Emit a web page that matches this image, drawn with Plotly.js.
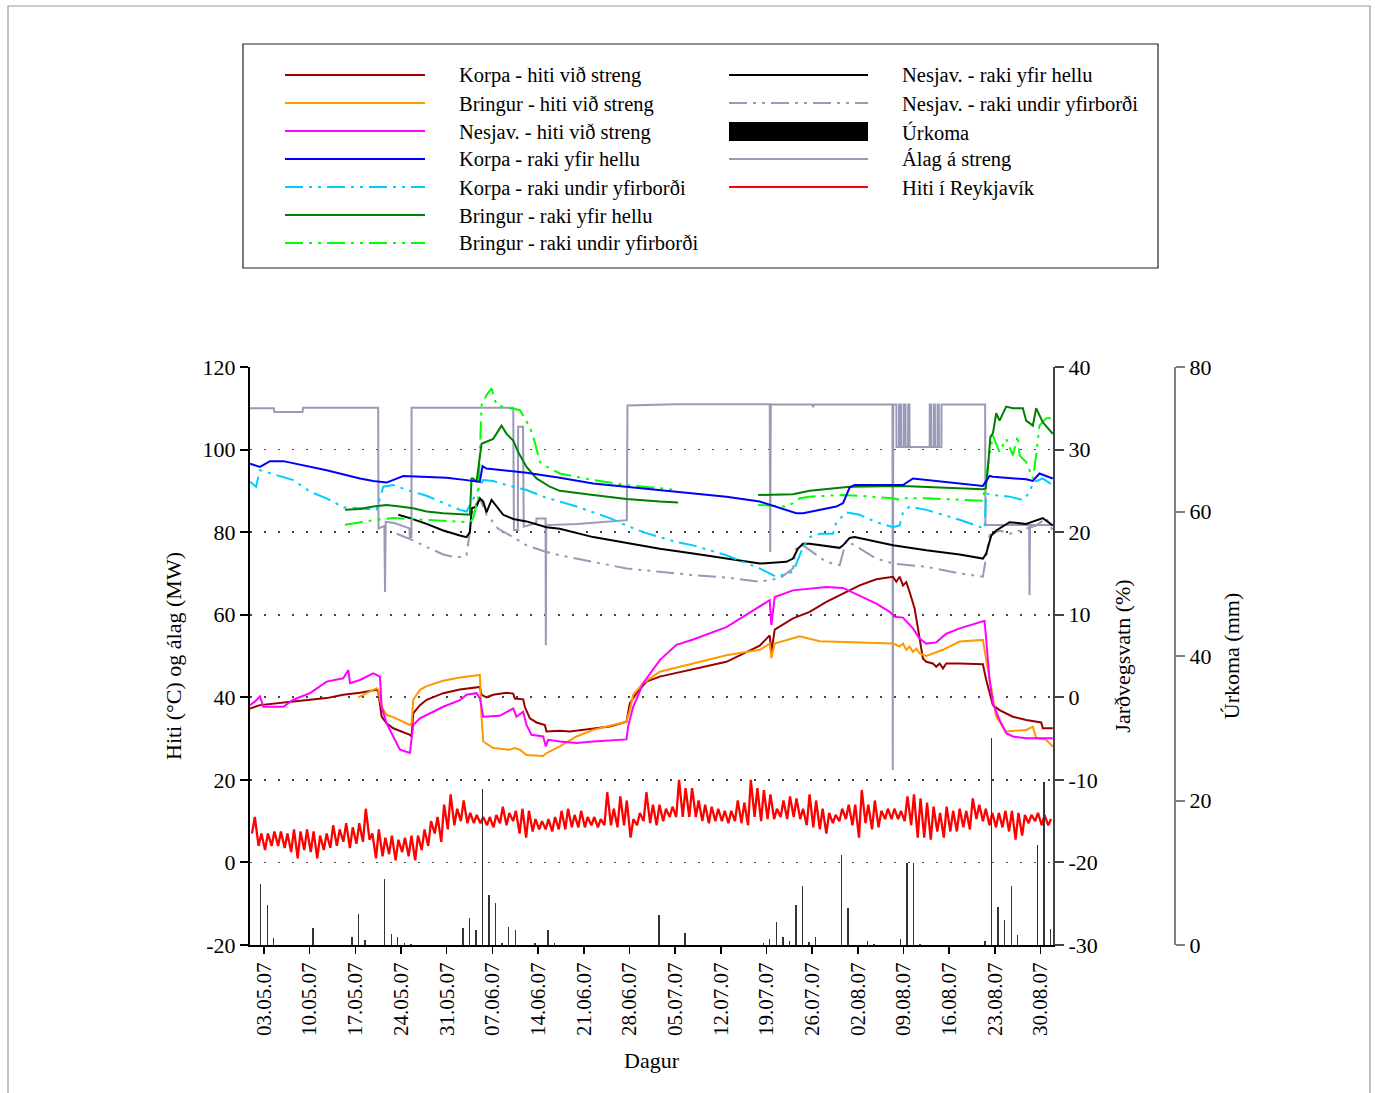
<!DOCTYPE html>
<html>
<head>
<meta charset="utf-8">
<script src="https://cdn.plot.ly/plotly-3.0.1.min.js"></script>
<style>html,body{margin:0;padding:0;background:#fff;}#chart{width:1375px;height:1093px;}</style>
</head>
<body>
<div id="chart"></div>
<script>
// ---------------- DATA (x = days since 2007-05-01 00:00) ----------------
// Temperature in Reykjavík: daily minimum and maximum (°C), day 0 = 1 May 2007
const rvkMin = [7,4,3,4,4,3.5,2.5,1,3,2.5,1,3,3.5,4,5,3.5,4.5,5,5.5,1,1.5,2,0.5,2.5,1.5,0.5,3,4,7,5,
  8,9,10,9.5,9.5,9.5,9,8.5,9.5,9,10,7,6,7.5,8,8,7.5,8,8,8.5,8.5,8.5,9,8.5,9,9,8.5,9,6,9,
  10,9.5,9,10,11,11,11,11,11,10,9.5,10,10,9.5,10,9.5,9,11,10,10.5,10.5,11,10.5,11,10.5,9,8.5,8,7,9.5,
  10,10.5,9,6,9.5,8,8.5,10.5,10.5,10.5,10,9,6,6,5.5,7.5,6,7.5,7.5,8.5,8,10.5,10,9,8.5,8.5,7.5,5.5,6.5,9.5,
  10,9,9];
const rvkMax = [11,7,7,7.5,7.5,7,8,7.5,8,7.5,6.5,7,9,8,9.5,8.5,9.5,13,7,8,6,6.5,5.5,6,6.5,6.5,8,10,11,14,
  16.5,13,15,12,11.5,11,11,11.5,13.5,12,12.5,13,12.5,10.5,10,10.5,11,12.5,13,11.5,12.5,11,11,10.5,17,13,16,15,10.5,12,
  17,14,14,13,13.5,20,18,18,15,14,13.5,13,12.5,12.5,15,14.5,20,18,17.5,16.5,13,15,16,15.5,13,16.5,15,13,12,11.5,
  13,14,14,17.5,14,15,12.5,13,13,12.5,16,16.5,15.5,14.5,13.5,12,13.5,12.5,13,12.5,15.5,14,13,12,12,12.5,12.5,12,11.5,11.5,
  12,11.5,10.5];

// Precipitation (mm per day)
const precipDay = [1,2,3,9,15,16,17,20,21,22,23,24,32,33,34,35,36,37,38,39,40,43,45,46,62,66,
  78,79,80,81,82,83,84,85,86,90,91,94,95,99,100,101,102,112,113,114,115,116,117,120,121,122];
const precipMM = [8.5,5.5,1,2.3,1.1,4.3,0.7,9.1,1.5,1.1,0.3,0.2,2.3,3.7,2.1,21.6,6.9,5.8,0.3,2.5,2.1,0.3,2.1,0.3,4.1,1.7,
  0.3,0.9,3.2,1.1,0.5,5.6,8.1,0.4,1.1,12.4,5.1,0.5,0.2,0.8,11.4,11.4,0.2,0.6,28.7,5.3,3.5,8.1,1.4,13.9,22.6,2.2];

// Load on cable (MW): [day, MW]
const alag = [[-0.2,110],[3.5,110],[3.6,109.1],[7.9,109.1],[8.0,110.1],[19.5,110.1],[19.55,80.9],[20.45,81.5],[20.55,65.5],[20.65,82.5],
  [22,82.2],[24.3,80.9],[24.35,78.8],[24.6,78.8],[24.62,110.1],[40.2,110.1],[40.3,80.5],[40.9,80.5],[40.95,105.5],[41.7,105.5],
  [41.8,81.3],[43.7,82.2],[43.76,83.3],[45.15,83.3],[45.19,52.6],[45.25,81.7],[50,82],[57.6,82.9],[57.7,110.7],[65,111],
  [79.5,111],[79.57,75.2],[79.65,111],[86.0,110.9],[86.13,110.3],[86.3,110.9],[98.3,110.9],[98.35,22.4],[98.42,110.9],
  [98.9,110.9],[98.92,100.6],[99.3,100.6],[99.32,110.9],[99.6,110.9],[99.62,100.6],[100.0,100.6],[100.02,110.9],[100.3,110.9],[100.32,100.6],
  [100.7,100.6],[100.72,110.9],[100.9,110.9],[100.92,100.6],[104.0,100.6],[104.02,110.9],[104.2,110.9],[104.22,100.6],[104.6,100.6],[104.62,110.9],
  [104.8,110.9],[104.82,100.6],[105.2,100.6],[105.22,110.9],[105.4,110.9],[105.42,100.6],[105.8,100.6],[105.82,110.9],
  [112.5,110.9],[112.55,81.7],[119.25,81.7],[119.3,64.7],[119.38,81.7],[122.9,81.7]];

// Cable temperatures (°C): [day, °C]
const korpaHiti = [[-0.14,37.3],[1.39,38.1],[6.5,39.0],[11.6,39.8],[14.15,40.6],[16.71,41.1],[19.26,41.8],[19.51,41.4],[20.03,35.3],[20.79,33.7],
  [21.81,32.5],[24.36,30.9],[24.62,30.5],[24.87,36.1],[25.9,38.1],[26.92,39.4],[29.47,41.0],[32.02,41.9],[35.08,42.5],[35.34,40.6],
  [36.1,40.0],[37.12,40.6],[39.17,41.1],[40.19,40.9],[40.44,39.7],[41.72,39.5],[41.97,37.7],[42.74,34.9],[43.76,33.9],[45.04,33.3],
  [45.29,31.7],[47.33,31.9],[48.87,31.7],[52.44,32.5],[54.99,32.9],[57.55,34.1],[58.06,38.5],[59.08,41.0],[60.61,43.8],[62.65,45.0],
  [67.76,46.8],[72.86,48.6],[77.97,52.5],[79.49,55.0],[79.75,51.0],[80.26,56.4],[83.06,59.1],[85.62,60.7],[88.17,63.1],[90.72,65.1],
  [93.27,67.1],[95.83,68.6],[98.38,69.2],[98.89,68.0],[99.4,69.2],[99.91,67.1],[100.42,67.9],[100.93,65.5],[101.7,61.5],[102.21,56.7],
  [102.72,51.0],[102.97,49.4],[103.48,48.6],[104.5,48.2],[105.01,47.4],[105.53,48.2],[106.04,47.0],[106.55,48.2],[108.59,48.2],[112.16,48.0],
  [112.67,44.2],[113.18,41.0],[113.69,38.1],[114.71,36.9],[116.75,35.3],[118.79,34.5],[120.32,34.1],[121.09,33.9],[121.34,32.5],[122.87,32.5]];
const bringurHiti = [[16.45,40.0],[19.26,42.2],[19.51,41.8],[20.03,37.7],[20.79,35.7],[21.81,35.2],[24.36,33.3],[24.62,33.7],[24.87,39.4],[25.9,41.8],
  [26.92,42.7],[29.47,44.0],[32.02,44.8],[35.08,45.4],[35.34,35.3],[35.59,29.3],[37.12,27.7],[39.68,27.3],[40.44,27.7],[41.21,27.3],
  [42.23,26.0],[44.78,25.8],[45.29,26.5],[47.33,28.1],[49.89,30.5],[52.44,32.1],[54.99,33.1],[57.55,34.1],[58.06,36.9],[58.57,40.6],
  [60.1,43.4],[62.65,46.2],[67.76,48.2],[72.86,50.2],[77.97,51.5],[79.49,53.0],[79.75,49.5],[80.26,53.0],[84.09,54.8],[87.15,53.6],
  [98.38,53.0],[99.4,52.3],[99.91,53.0],[100.42,51.5],[100.93,52.3],[101.44,51.0],[101.95,51.8],[102.46,50.6],[103.48,50.0],[104.5,50.6],
  [106.04,51.5],[108.59,53.5],[112.16,53.9],[112.67,49.0],[113.69,39.4],[114.2,35.3],[115.73,31.7],[118.79,32.1],[119.81,32.9],[120.32,30.1],
  [121.85,29.7],[122.36,28.9],[122.87,28.1]];
const nesjavHiti = [[-0.14,38.1],[0.63,39.0],[1.39,40.2],[1.9,37.7],[4.97,37.7],[6.5,39.4],[9.05,41.0],[11.6,43.8],[14.15,44.6],[14.92,46.6],
  [15.18,43.4],[16.71,44.2],[18.75,45.8],[19.77,45.0],[20.03,37.7],[20.79,33.7],[21.81,30.5],[22.83,27.3],[24.36,26.5],[24.62,29.7],
  [24.87,33.3],[25.9,34.9],[26.92,35.7],[29.47,37.7],[32.02,39.3],[33.04,40.6],[34.57,41.0],[35.08,39.8],[35.59,35.3],[38.14,35.5],
  [40.19,37.3],[40.7,35.3],[41.72,36.5],[42.23,33.3],[42.99,30.9],[44.78,30.5],[45.19,28.1],[45.55,29.7],[47.33,29.3],[49.89,28.9],
  [52.44,29.3],[57.55,29.8],[57.8,32.9],[58.57,37.7],[60.1,43.4],[62.65,49.0],[65.2,52.7],[67.76,54.0],[72.86,57.0],[77.97,62.0],
  [79.49,63.5],[79.75,57.5],[80.26,64.3],[83.06,65.9],[88.17,66.7],[90.72,66.5],[93.27,64.7],[95.83,62.7],[97.87,60.7],[98.63,59.5],
  [99.91,59.3],[101.44,56.7],[102.46,54.2],[103.48,53.0],[105.01,53.3],[106.55,55.4],[108.59,56.7],[111.14,57.9],[112.41,58.5],[112.67,53.9],
  [113.18,44.2],[113.69,38.5],[114.71,34.5],[115.73,31.3],[116.75,30.5],[118.79,30.1],[122.87,30.1]];

// Soil moisture (%): [day, %]
const korpaYfir = [[-0.14,28.3],[1.39,27.9],[2.92,28.6],[4.97,28.6],[11.6,27.5],[16.71,26.5],[18.75,26.2],[20.79,26.0],[23.34,26.8],[29.98,26.6],
  [33.04,26.3],[35.08,26.1],[35.49,28.0],[36.1,27.7],[42.23,27.2],[47.33,26.6],[52.44,25.9],[57.55,25.5],[62.65,25.1],[67.76,24.7],
  [72.86,24.3],[77.97,23.7],[83.57,22.3],[84.6,22.3],[89.7,23.1],[90.72,23.5],[91.74,25.4],[92.51,25.7],[99.91,25.7],[101.44,26.5],
  [112.16,25.6],[113.18,26.8],[113.69,26.7],[118.79,26.4],[119.81,26.2],[120.83,27.1],[122.87,26.5]];
const korpaUndir = [[-0.14,26.1],[0.79,25.5],[1.39,27.5],[6.5,26.3],[9.05,24.9],[11.6,24.1],[14.15,23.0],[16.71,22.9],[19.26,22.7],[20.28,25.5],
  [21.81,25.7],[24.36,25.0],[26.92,24.4],[29.98,23.4],[32.02,22.7],[33.04,22.5],[34.57,24.7],[35.59,26.3],[37.12,26.2],[39.17,25.7],
  [42.23,25.1],[44.78,24.3],[47.33,23.7],[49.89,23.1],[52.44,22.4],[54.99,21.7],[57.55,20.8],[60.1,20.0],[62.65,19.4],[65.2,18.8],
  [67.76,18.4],[70.31,17.8],[72.86,17.2],[75.41,16.4],[77.97,15.6],[80.51,14.6],[83.06,15.2],[84.09,17.2],[84.6,18.2],[85.62,19.4],
  [87.15,19.8],[89.19,19.8],[89.7,21.2],[91.23,22.4],[93.27,22.1],[95.83,21.2],[98.38,20.6],[99.4,20.8],[99.91,22.4],[100.93,23.1],
  [103.48,22.7],[106.04,22.1],[108.59,21.5],[111.14,20.8],[112.41,20.4],[112.67,24.7],[113.69,24.5],[116.24,24.3],[118.28,23.9],[119.3,24.8],
  [119.81,26.0],[121.3,26.5],[122.87,25.7]];
const bringurYfir = [[14.41,22.7],[16.71,22.8],[18.75,23.1],[20.79,23.3],[22.83,23.1],[24.87,22.9],[26.92,22.5],[29.47,22.3],[33.55,22.1],[33.81,26.5],
  [34.06,26.5],[34.57,26.1],[35.34,30.7],[37.12,31.3],[38.4,32.9],[39.17,31.9],[40.19,31.1],[40.95,29.7],[42.23,27.9],[43.76,26.5],
  [45.8,25.5],[47.33,25.0],[52.44,24.5],[57.55,24.0],[62.65,23.7],[65.46,23.6],[70,null],[77.71,24.5],[83.06,24.6],[85.62,25.0],
  [91.74,25.5],[99.91,25.6],[112.16,25.2],[112.6,25.3],[112.9,27.5],[113.3,31.5],[113.7,32.0],[114.2,34.4],[114.71,33.5],[115.73,35.2],
  [116.75,35.0],[118.28,35.0],[118.79,33.5],[119.81,32.9],[120.32,35.0],[121.34,33.3],[122.87,31.9]];
const bringurUndir = [[14.41,20.9],[19.26,21.5],[21.81,21.7],[26.92,21.5],[32.02,21.3],[33.55,21.2],[34.06,21.7],[34.83,24.1],[35.34,35.4],[36.1,36.6],
  [36.87,37.4],[37.63,35.4],[39.68,35.0],[41.21,34.8],[42.74,32.7],[43.5,30.9],[44.27,28.5],[45.8,27.7],[47.33,27.1],[52.44,26.3],
  [57.55,25.7],[62.65,25.3],[65.46,25.1],[70,null],[77.71,23.3],[82.04,23.1],[83.06,23.5],[84.09,24.1],[85.62,24.3],[90.72,24.5],
  [93.27,24.4],[98.38,24.1],[99.4,23.9],[99.91,24.1],[103.48,24.1],[108.59,23.9],[112.16,23.8],[112.93,28.1],[113.69,31.7],[114.71,29.7],
  [115.73,31.3],[116.75,29.3],[117.52,31.7],[117.78,29.3],[118.79,28.5],[119.81,26.5],[120.32,29.3],[120.83,32.9],[121.85,33.8],[122.87,33.8]];
const nesjavYfir = [[22.58,22.1],[24.36,21.7],[26.92,21.0],[29.47,20.2],[32.02,19.6],[33.04,19.4],[33.55,20.0],[33.85,22.9],[34.57,23.1],[35.08,24.1],
  [35.59,23.7],[36.1,22.4],[36.87,23.9],[37.63,23.1],[38.66,22.1],[40.19,21.6],[42.23,21.3],[45.29,20.6],[47.33,20.4],[52.44,19.4],
  [57.55,18.7],[62.65,18.0],[67.76,17.4],[72.86,16.8],[77.97,16.2],[82.04,16.4],[83.06,16.8],[83.83,18.0],[84.6,18.6],[85.62,18.6],
  [90.21,18.1],[90.72,18.4],[91.74,19.3],[92.51,19.4],[98.38,18.4],[103.48,17.8],[108.59,17.3],[112.16,16.8],[112.67,17.4],[113.44,19.6],
  [114.2,20.2],[116.24,21.2],[118.79,21.0],[121.34,21.7],[122.87,20.8]];
const nesjavUndir = [[22.32,19.8],[24.87,19.0],[26.92,18.2],[29.47,17.3],[31.0,17.0],[32.53,17.0],[33.04,17.2],[33.55,20.2],[34.06,22.9],[35.08,24.1],
  [36.1,22.1],[37.12,21.2],[37.89,20.4],[40.19,19.4],[42.23,18.4],[45.29,17.6],[47.33,17.2],[52.44,16.4],[57.55,15.6],[62.65,15.2],
  [67.76,14.8],[72.86,14.5],[77.97,14.0],[81.02,14.4],[83.06,15.6],[83.57,18.2],[84.6,18.4],[88.17,16.4],[90.21,16.0],[91.23,19.0],
  [93.27,18.0],[95.83,16.8],[98.38,16.2],[103.48,15.8],[108.59,15.0],[112.16,14.6],[113.18,19.6],[114.71,20.2],[116.24,19.8],[118.79,20.4],
  [120.32,20.8],[121.85,21.7],[122.87,20.2]];

// Axis ticks
const leftTicks = [-20, 0, 20, 40, 60, 80, 100, 120];
const moistTicks = [-30, -20, -10, 0, 10, 20, 30, 40];
const rainTicks = [0, 20, 40, 60, 80];
const tickStart = '2007-05-03';
const xStartDay = -0.14, xEndDay = 122.9;

// ---------------- BUILD ----------------
const DAY = 86400000, ORIGIN = Date.UTC(2007, 4, 1);
function toDate(d) { return new Date(ORIGIN + d * DAY).toISOString().replace('T', ' ').slice(0, 19); }
function xs(pairs) { return pairs.map(p => toDate(p[0])); }
function ys(pairs) { return pairs.map(p => p[1]); }
const label = v => String(v); // plain hyphen-minus like the original

const DASHDOT = '18px,6px,3px,6px,3px,6px';
const series = [
  {key:'korpaHiti',   name:'Korpa - hiti við streng',        data:korpaHiti,   axis:'y',  color:'#990000', dash:'solid'},
  {key:'bringurHiti', name:'Bringur - hiti við streng',      data:bringurHiti, axis:'y',  color:'#ff9900', dash:'solid'},
  {key:'nesjavHiti',  name:'Nesjav. - hiti við streng',      data:nesjavHiti,  axis:'y',  color:'#ff00ff', dash:'solid'},
  {key:'korpaYfir',   name:'Korpa - raki yfir hellu',        data:korpaYfir,   axis:'y2', color:'#0000ff', dash:'solid'},
  {key:'korpaUndir',  name:'Korpa - raki undir yfirborði',   data:korpaUndir,  axis:'y2', color:'#00ccff', dash:DASHDOT},
  {key:'bringurYfir', name:'Bringur - raki yfir hellu',      data:bringurYfir, axis:'y2', color:'#008000', dash:'solid'},
  {key:'bringurUndir',name:'Bringur - raki undir yfirborði', data:bringurUndir,axis:'y2', color:'#00ff00', dash:DASHDOT},
  {key:'nesjavYfir',  name:'Nesjav. - raki yfir hellu',      data:nesjavYfir,  axis:'y2', color:'#000000', dash:'solid'},
  {key:'nesjavUndir', name:'Nesjav. - raki undir yfirborði', data:nesjavUndir, axis:'y2', color:'#9999b8', dash:DASHDOT},
  {key:'urkoma',      name:'Úrkoma', bar:true, color:'#333333'},
  {key:'alag',        name:'Álag á streng',                  data:alag,        axis:'y',  color:'#9999b8', dash:'solid'},
  {key:'rvk',         name:'Hiti í Reykjavík',                                axis:'y',  color:'#ff0000', dash:'solid'}
];

// Reykjavík temperature: daily min near 04:00, max near 14:00
const rvkX = [], rvkY = [];
rvkMin.forEach((v, i) => { rvkX.push(toDate(i + 0.17)); rvkY.push(v); rvkX.push(toDate(i + 0.6)); rvkY.push(rvkMax[i]); });

const traces = [];
traces.push({type:'bar', name:'Úrkoma', x:precipDay.map(d => toDate(d + 0.5)), y:precipMM, yaxis:'y3',
  width:precipDay.map(() => 0.22 * DAY), marker:{color:'#333333', line:{width:0}}, hoverinfo:'x+y'});
const drawOrder = ['alag','nesjavUndir','nesjavYfir','korpaUndir','bringurUndir','bringurYfir','korpaYfir','korpaHiti','bringurHiti','nesjavHiti'];
drawOrder.forEach(k => {
  const s = series.find(q => q.key === k);
  traces.push({type:'scatter', mode:'lines', name:s.name, x:xs(s.data), y:ys(s.data), yaxis:s.axis,
    connectgaps:false, line:{color:s.color, width:2, dash:s.dash}});
});
traces.push({type:'scatter', mode:'lines', name:'Hiti í Reykjavík', x:rvkX, y:rvkY, yaxis:'y', line:{color:'#ff0000', width:2.3}});

// ---------------- LAYOUT ----------------
const W = 1375, H = 1093, L = 250, R = 130, T = 367, B = 148;
const PW = W - L - R, PH = H - T - B;
const fx = px => (px - L) / PW;
const fy = py => (H - B - py) / PH;
const FONT = 'Liberation Serif, Times New Roman, serif';

const shapes = [], annotations = [];
shapes.push({type:'rect', xref:'paper', yref:'paper', x0:fx(8), x1:fx(1370), y0:fy(1110), y1:fy(6), line:{color:'#9a9a9a', width:1.2}, layer:'below'});
shapes.push({type:'rect', xref:'paper', yref:'paper', x0:fx(243), x1:fx(1158), y0:fy(268), y1:fy(44), line:{color:'#222', width:1.2}});
const legendCols = [
  {lineX0:285, lineX1:425, textX:457, keys:['korpaHiti','bringurHiti','nesjavHiti','korpaYfir','korpaUndir','bringurYfir','bringurUndir']},
  {lineX0:729, lineX1:868, textX:900, keys:['nesjavYfir','nesjavUndir','urkoma','alag','rvk']}
];
legendCols.forEach(col => {
  col.keys.forEach((k, i) => {
    const s = series.find(q => q.key === k);
    const yPx = 75 + i * 28;
    if (s.bar) {
      shapes.push({type:'rect', xref:'paper', yref:'paper', x0:fx(col.lineX0), x1:fx(col.lineX1), y0:fy(yPx + 10), y1:fy(yPx - 9),
        fillcolor:'#000', line:{width:0}});
    } else {
      shapes.push({type:'line', xref:'paper', yref:'paper', x0:fx(col.lineX0), x1:fx(col.lineX1), y0:fy(yPx), y1:fy(yPx),
        line:{color:s.color, width:2, dash:s.dash}});
    }
    annotations.push({xref:'paper', yref:'paper', x:fx(col.textX), y:fy(yPx + 1), xanchor:'left', yanchor:'middle',
      text:s.name, showarrow:false, font:{family:FONT, size:20.5, color:'#000'}});
  });
});

const layout = {
  width:W, height:H,
  margin:{l:L, r:R, t:T, b:B, pad:0},
  paper_bgcolor:'#ffffff', plot_bgcolor:'rgba(0,0,0,0)',
  font:{family:FONT, size:22, color:'#000'},
  showlegend:false,
  bargap:0,
  xaxis:{type:'date', domain:[0, fx(1053)], range:[toDate(xStartDay), toDate(xEndDay)],
    tick0:tickStart, dtick:7 * DAY, tickformat:'%d.%m.%y', tickangle:-90,
    ticks:'outside', ticklen:7, tickwidth:1.5, tickcolor:'#000',
    showline:true, linecolor:'#000', linewidth:2, showgrid:false, zeroline:false,
    tickfont:{family:FONT, size:21}, title:{text:'Dagur', font:{family:FONT, size:22}, standoff:18}},
  yaxis:{range:[-20,120], tickmode:'array', tickvals:leftTicks, ticktext:leftTicks.map(label),
    ticks:'outside', ticklen:8, tickwidth:2, tickcolor:'#000',
    showline:true, linecolor:'#000', linewidth:2, zeroline:false,
    showgrid:true, gridcolor:'#444', gridwidth:1.6, griddash:'2px,12px',
    tickfont:{family:FONT, size:22}, title:{text:'Hiti (°C) og álag (MW)', font:{family:FONT, size:22}, standoff:15}},
  yaxis2:{overlaying:'y', side:'right', anchor:'x', range:[-30,40], tickmode:'array', tickvals:moistTicks, ticktext:moistTicks.map(label),
    ticks:'outside', ticklen:9, tickwidth:2, tickcolor:'#444', showline:true, linecolor:'#444', linewidth:2,
    showgrid:false, zeroline:false, tickfont:{family:FONT, size:22},
    title:{text:'Jarðvegsvatn (%)', font:{family:FONT, size:22}, standoff:18}},
  yaxis3:{overlaying:'y', side:'right', anchor:'free', position:fx(1175), range:[0,80], tickmode:'array', tickvals:rainTicks, ticktext:rainTicks.map(label),
    ticks:'outside', ticklen:9, tickwidth:2, tickcolor:'#808080', showline:true, linecolor:'#808080', linewidth:2,
    showgrid:false, zeroline:false, tickfont:{family:FONT, size:22},
    title:{text:'Úrkoma (mm)', font:{family:FONT, size:22}, standoff:12}},
  shapes:shapes,
  annotations:annotations
};

Plotly.newPlot('chart', traces, layout, {displayModeBar:false, staticPlot:true});
</script>
</body>
</html>
